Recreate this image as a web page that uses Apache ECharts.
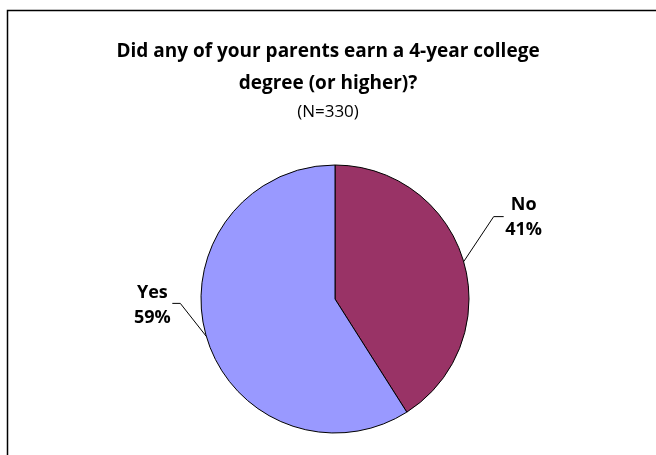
<!DOCTYPE html>
<html>
<head>
<meta charset="utf-8">
<script src="https://cdn.jsdelivr.net/npm/echarts@6/dist/echarts.min.js"></script>
<style>
  html, body { margin: 0; padding: 0; background: #fff; }
  #main { width: 656px; height: 455px; }
</style>
</head>
<body>
<div id="main"></div>
<script>
const categories = ["No", "Yes"];
const values = [41, 59];
const sliceColors = ["#993366", "#9999FF"];
// leader line shape relative to slice anchor: elbow, tail, label centre
const leader = [
  { elbow: [30, -45], tail: 10, text: [60, -44] },
  { elbow: [-26, -33], tail: -8, text: [-54, -31] }
];

let myChart = echarts.init(document.getElementById("main"));
const fontFamily = "'Open Sans', 'Noto Sans', sans-serif";

let option = {
  backgroundColor: "#fff",
  graphic: [
    {
      type: "rect",
      shape: { x: 7.5, y: 10.5, width: 700, height: 500 },
      style: { fill: "none", stroke: "#000", lineWidth: 1.5 },
      silent: true
    }
  ],
  title: {
    text: "Did any of your parents earn a 4-year college\ndegree (or higher)?",
    subtext: "(N=330)",
    left: "center",
    top: 31,
    itemGap: 2,
    textStyle: {
      fontFamily: fontFamily,
      fontSize: 19,
      fontWeight: "bold",
      color: "#000",
      lineHeight: 32
    },
    subtextStyle: {
      fontFamily: fontFamily,
      fontSize: 17,
      color: "#000",
      lineHeight: 20
    }
  },
  series: [
    {
      type: "pie",
      center: [335, 299],
      radius: 134,
      startAngle: 90,
      clockwise: true,
      animation: false,
      data: categories.map((c, i) => ({
        name: c,
        value: values[i],
        itemStyle: { color: sliceColors[i] }
      })),
      itemStyle: { borderColor: "#000", borderWidth: 1 },
      label: {
        show: true,
        formatter: p => p.name + "\n" + p.value + "%",
        fontFamily: fontFamily,
        fontSize: 18,
        fontWeight: "bold",
        color: "#000",
        lineHeight: 25,
        align: "center"
      },
      labelLine: {
        show: true,
        length: 30,
        length2: 8,
        lineStyle: { color: "#000", width: 1 }
      },
      labelLayout: function (params) {
        const a = params.labelLinePoints[0];
        const l = leader[params.dataIndex];
        const elbow = [a[0] + l.elbow[0], a[1] + l.elbow[1]];
        return {
          x: a[0] + l.text[0],
          y: a[1] + l.text[1],
          align: "center",
          verticalAlign: "middle",
          labelLinePoints: [a, elbow, [elbow[0] + l.tail, elbow[1]]]
        };
      },
      emphasis: { disabled: true }
    }
  ]
};
myChart.setOption(option);
</script>
</body>
</html>
